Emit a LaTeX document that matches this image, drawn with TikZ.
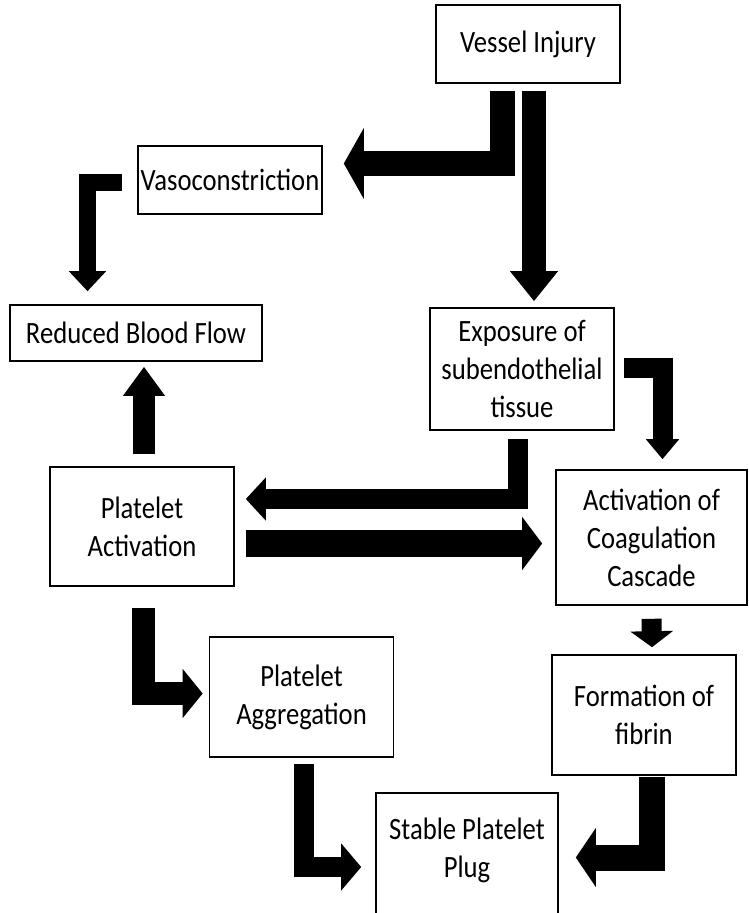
\documentclass[tikz,border=0pt]{standalone}
\usepackage{fontspec}
\setmainfont{Carlito}[FakeStretch=0.86]
\usetikzlibrary{arrows.meta}
\tikzset{
  flow box/.style={draw, line width=1.6pt, minimum width=184pt, inner sep=2pt,
                   align=center, font=\fontsize{31}{38}\selectfont},
  blk arrow/.style 2 args={line width=#1, -{Triangle[length=20pt, width=#2]}},
}

\begin{document}
\begin{tikzpicture}[x=1pt, y=-1pt]
  \useasboundingbox (0,0) rectangle (749,913);
  \node[flow box, minimum height=78pt] (vi) at (528,44) {Vessel Injury};
  \node[flow box, minimum height=68pt] (vaso) at (230,180) {Vasoconstriction};
  \node[flow box, minimum width=252pt, minimum height=56pt] (rbf) at (136,333) {Reduced Blood Flow};
  \node[flow box, minimum height=122pt] (exp) at (522,369) {Exposure of\\subendothelial\\tissue};
  \node[flow box, minimum height=119pt] (pa) at (142,526.5) {Platelet\\Activation};
  \node[flow box, minimum width=191pt, minimum height=135pt] (acc) at (651.5,537.5) {Activation of\\Coagulation\\Cascade};
  \node[flow box, minimum height=120pt] (pag) at (301.5,697) {Platelet\\Aggregation};
  \node[flow box, minimum height=120pt] (ff) at (644,715) {Formation of\\fibrin};
  \node[flow box, minimum width=182pt, minimum height=130pt, text depth=20pt] (spp) at (467,858) {Stable Platelet\\Plug};

  \draw[blk arrow={25pt}{70pt}] ([xshift=-25.5pt, yshift=-7pt]vi.south) |- ([xshift=21pt, yshift=16.5pt]vaso.east);
  \draw[blk arrow={24pt}{46pt}, -{Triangle[length=30pt, width=46pt]}] ([xshift=6pt, yshift=-7pt]vi.south) -- ([xshift=12pt, yshift=6pt]exp.north);
  \draw[blk arrow={17pt}{36pt}] ([xshift=-15pt, yshift=-2pt]vaso.west) -| ([xshift=-48.5pt, yshift=13pt]rbf.north);
  \draw[blk arrow={22pt}{40pt}, -{Triangle[length=29pt, width=40pt]}] ([xshift=2pt, yshift=12pt]pa.north) -- ([xshift=8pt, yshift=-5pt]rbf.south);
  \draw[blk arrow={20pt}{42pt}] ([xshift=-4pt, yshift=-8pt]exp.south) |- ([xshift=11pt, yshift=27.5pt]pa.east);
  \draw[blk arrow={27pt}{52pt}] ([xshift=11pt, yshift=-17pt]pa.east) -- ([xshift=-13pt, yshift=-6pt]acc.west);
  \draw[blk arrow={20pt}{32pt}] ([xshift=9pt, yshift=1pt]exp.east) -| ([xshift=11pt, yshift=10pt]acc.north);
  \draw[blk arrow={23pt}{48pt}] ([xshift=1pt, yshift=-21pt]pa.south) |- ([xshift=-6pt, yshift=3.5pt]pag.west);
  \draw[blk arrow={20pt}{46pt}] ([xshift=2.5pt, yshift=-6pt]pag.south) |- ([xshift=-14pt, yshift=-9pt]spp.west);
  \draw[blk arrow={20pt}{42pt}, -{Triangle[length=16pt, width=42pt]}] ([yshift=-13pt]acc.south) -- ([xshift=8pt, yshift=7pt]ff.north);
  \draw[blk arrow={26pt}{58pt}] ([xshift=7.5pt, yshift=-1pt]ff.south) |- ([xshift=17pt, yshift=0.5pt]spp.east);
\end{tikzpicture}
\end{document}
